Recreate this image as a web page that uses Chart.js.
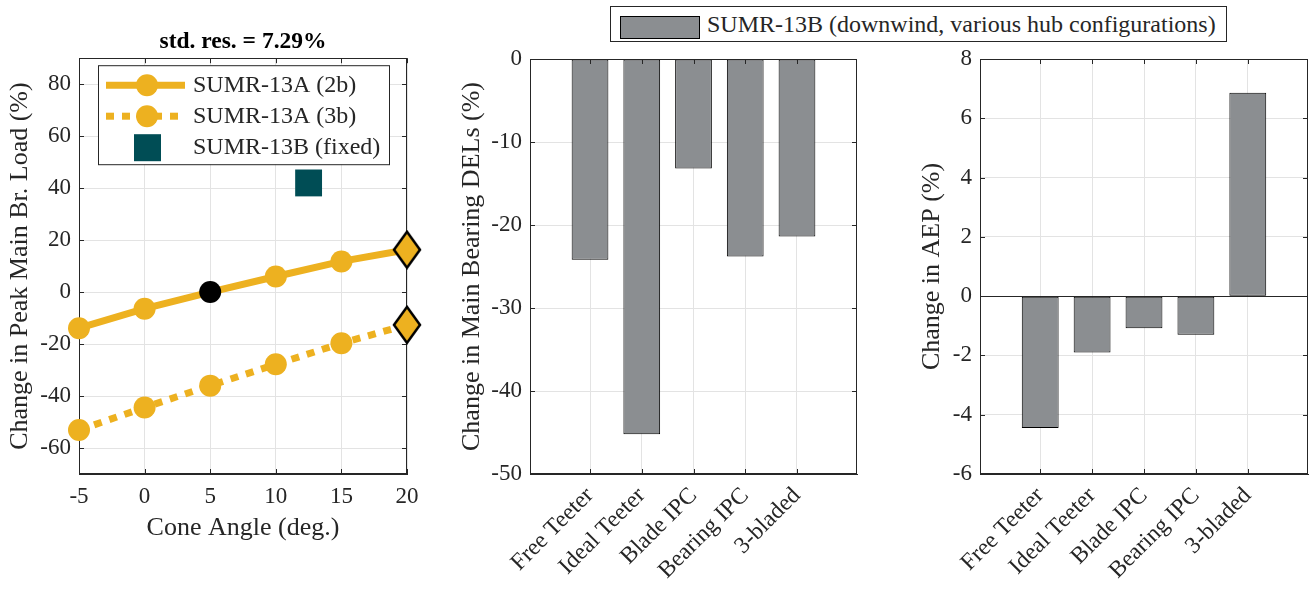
<!DOCTYPE html>
<html>
<head>
<meta charset="utf-8">
<script src="https://cdn.jsdelivr.net/npm/chart.js@4.4.1/dist/chart.umd.min.js"></script>
<style>
html, body { margin: 0; padding: 0; background: #fff; }
#wrap { position: relative; width: 1313px; height: 591px; overflow: hidden; }
#wrap canvas { position: absolute; top: 0; }
#barLegend {
    position: absolute; left: 610px; top: 6px; width: 617px; height: 36px;
    box-sizing: border-box; border: 1px solid #262626; background: #fff;
    font-family: "Liberation Serif", "Times New Roman", serif; font-size: 24px; color: #262626;
    white-space: nowrap;
}
#barLegend .swatch {
    position: absolute; left: 9px; top: 9px; width: 80px; height: 23px;
    box-sizing: border-box; border: 1px solid #000; background: #8B8E91;
}
#barLegend .label { position: absolute; left: 96px; top: 2px; line-height: 30px; }
</style>
</head>
<body>
<div id="wrap">
    <canvas id="coneChart" width="440" height="591" style="left:0px"></canvas>
    <canvas id="delChart" width="440" height="591" style="left:440px"></canvas>
    <canvas id="aepChart" width="423" height="591" style="left:890px"></canvas>
    <div id="barLegend"><div class="swatch"></div><div class="label">SUMR-13B (downwind, various hub configurations)</div></div>
</div>
<script>
/* ================= DATA ================= */
const coneAngles = [-5, 0, 5, 10, 15, 20];
const load2b = [-13.9, -6.4, 0, 6.0, 11.8, 16.3];
const load3b = [-53.1, -44.4, -36.0, -27.8, -19.7, -12.6];
const fixedCone = [12.5];
const fixedLoad = [42];

const hubConfigs = ["Free Teeter", "Ideal Teeter", "Blade IPC", "Bearing IPC", "3-bladed"];
const delChange = [-24.2, -45.2, -13.2, -23.8, -21.4];
const aepChange = [-4.45, -1.9, -1.08, -1.3, 6.86];

const coneTicks = [-5, 0, 5, 10, 15, 20];
const loadTicks = [-60, -40, -20, 0, 20, 40, 60, 80];
const delTicks = [-50, -40, -30, -20, -10, 0];
const aepTicks = [-6, -4, -2, 0, 2, 4, 6, 8];

/* ================= STYLE ================= */
const yellow = "#EDB120";
const teal = "#004D55";
const barGray = "#8B8E91";
const ink = "#262626";
const gridCol = "#E3E3E3";
const serif = '"Liberation Serif", "Times New Roman", serif';

function setTicks(list) {
    return function (scale) { scale.ticks = list.map(v => ({ value: v })); };
}

// MATLAB-ish diamond marker (taller than wide)
function diamond() {
    const c = document.createElement("canvas");
    c.width = 30; c.height = 40;
    const g = c.getContext("2d");
    g.beginPath();
    g.moveTo(15, 2); g.lineTo(28, 20); g.lineTo(15, 38); g.lineTo(2, 20);
    g.closePath();
    g.fillStyle = yellow; g.fill();
    g.lineWidth = 2.5; g.strokeStyle = "#000"; g.stroke();
    return c;
}
const diamondMark = diamond();

/* ================= PLUGINS ================= */
function drawBox(chart, opts) {
    const { ctx, chartArea: a, scales: { x, y } } = chart;
    ctx.save();
    ctx.strokeStyle = ink;
    ctx.lineWidth = 1;
    ctx.beginPath();
    x.ticks.forEach(t => {
        const px = Math.round(x.getPixelForValue(t.value)) + 0.5;
        ctx.moveTo(px, a.bottom); ctx.lineTo(px, a.bottom - 5);
        ctx.moveTo(px, a.top); ctx.lineTo(px, a.top + 5);
    });
    y.ticks.forEach(t => {
        const py = Math.round(y.getPixelForValue(t.value)) + 0.5;
        ctx.moveTo(a.left, py); ctx.lineTo(a.left + 5, py);
        ctx.moveTo(a.right, py); ctx.lineTo(a.right - 5, py);
    });
    if (opts.zeroLine) {
        const py = Math.round(y.getPixelForValue(0)) + 0.5;
        ctx.moveTo(a.left, py); ctx.lineTo(a.right, py);
    }
    ctx.stroke();
    ctx.strokeRect(Math.round(a.left) + 0.5, Math.round(a.top) + 0.5,
        Math.round(a.right - a.left) - 1, Math.round(a.bottom - a.top) - 1);
    ctx.restore();
}

const matlabBox = {
    id: "matlabBox",
    beforeDatasetsDraw(chart, args, opts) { if (!opts.onTop) drawBox(chart, opts); },
    afterDatasetsDraw(chart, args, opts) { if (opts.onTop) drawBox(chart, opts); }
};

// legend box inside the cone-angle plot: line + marker samples
const lineLegend = {
    id: "lineLegend",
    afterDraw(chart) {
        const { ctx, chartArea: a } = chart;
        const bx = a.left + 19, by = a.top + 7, bw = 291, bh = 99;
        ctx.save();
        ctx.fillStyle = "#fff";
        ctx.fillRect(bx, by, bw, bh);
        ctx.strokeStyle = ink;
        ctx.lineWidth = 1;
        ctx.strokeRect(bx + 0.5, by + 0.5, bw, bh);

        const rows = [by + 20, by + 51, by + 82];
        const x0 = bx + 8, x1 = bx + 87, xm = bx + 49, tx = bx + 95;
        chart.data.datasets.forEach((ds, i) => {
            const ry = rows[i];
            if (ds.showLine !== false) {
                ctx.beginPath();
                ctx.strokeStyle = ds.borderColor;
                ctx.lineWidth = ds.borderWidth;
                ctx.setLineDash(ds.borderDash || []);
                ctx.moveTo(x0, ry); ctx.lineTo(x1, ry);
                ctx.stroke();
                ctx.setLineDash([]);
                ctx.beginPath();
                ctx.fillStyle = yellow;
                ctx.arc(xm, ry, 11, 0, Math.PI * 2);
                ctx.fill();
            } else {
                ctx.fillStyle = ds.backgroundColor;
                ctx.fillRect(xm - 13, ry - 13, 27, 27);
            }
            ctx.fillStyle = ink;
            ctx.font = "24px " + serif;
            ctx.textBaseline = "middle";
            ctx.textAlign = "left";
            ctx.fillText(ds.label, tx, ry + 1);
        });
        ctx.restore();
    }
};

/* ================= CONE ANGLE CHART ================= */
const last = coneAngles.length - 1;
new Chart(document.getElementById("coneChart"), {
    type: "line",
    data: {
        datasets: [
            {
                label: "SUMR-13A (2b)",
                data: coneAngles.map((a, i) => ({ x: a, y: load2b[i] })),
                borderColor: yellow,
                borderWidth: 7,
                pointStyle: coneAngles.map((a, i) => i === last ? diamondMark : "circle"),
                pointRadius: 11,
                pointBackgroundColor: coneAngles.map((a, i) => a === 5 ? "#000" : yellow),
                pointBorderColor: coneAngles.map((a, i) => a === 5 ? "#000" : yellow),
                pointBorderWidth: 0,
                clip: false
            },
            {
                label: "SUMR-13A (3b)",
                data: coneAngles.map((a, i) => ({ x: a, y: load3b[i] })),
                borderColor: yellow,
                borderWidth: 7,
                borderDash: [8, 8],
                borderCapStyle: "butt",
                pointStyle: coneAngles.map((a, i) => i === last ? diamondMark : "circle"),
                pointRadius: 11,
                pointBackgroundColor: yellow,
                pointBorderColor: yellow,
                pointBorderWidth: 0,
                clip: false
            },
            {
                label: "SUMR-13B (fixed)",
                data: fixedCone.map((a, i) => ({ x: a, y: fixedLoad[i] })),
                showLine: false,
                backgroundColor: teal,
                borderColor: teal,
                pointStyle: "rect",
                pointRadius: 19,
                pointBackgroundColor: teal,
                pointBorderWidth: 0,
                clip: false
            }
        ]
    },
    options: {
        responsive: false,
        animation: false,
        devicePixelRatio: 1,
        layout: { padding: { top: 0, right: 33, bottom: 0, left: 0 } },
        plugins: {
            legend: { display: false },
            tooltip: { enabled: false },
            title: {
                display: true,
                fullSize: false,
                text: "std. res. = 7.29%",
                color: "#000",
                font: { family: serif, size: 23.5, weight: "bold" },
                padding: { top: 28, bottom: 2 }
            },
            matlabBox: { onTop: false }
        },
        scales: {
            x: {
                type: "linear",
                min: -5, max: 20,
                afterBuildTicks: setTicks(coneTicks),
                afterFit: s => { s.height = 117; },
                grid: { color: gridCol, drawTicks: false },
                border: { color: ink },
                ticks: { color: ink, font: { family: serif, size: 23 }, padding: 9 },
                title: { display: true, text: "Cone Angle (deg.)", color: ink,
                         font: { family: serif, size: 26 }, padding: { top: 0, bottom: 47 } }
            },
            y: {
                min: -70, max: 90,
                afterBuildTicks: setTicks(loadTicks),
                afterFit: s => { s.width = 79; },
                grid: { color: gridCol, drawTicks: false },
                border: { color: ink },
                ticks: { color: ink, font: { family: serif, size: 23 }, padding: 8 },
                title: { display: true, text: "Change in Peak Main Br. Load (%)", color: ink,
                         font: { family: serif, size: 26 }, padding: { top: 5, bottom: 0 } }
            }
        }
    },
    plugins: [matlabBox, lineLegend]
});

/* ================= BAR CHARTS ================= */
function barChart(id, values, yMin, yMax, yTicks, yTitle, rightPad, titleOffset, zeroLine) {
    return new Chart(document.getElementById(id), {
        type: "bar",
        data: {
            datasets: [{
                label: "SUMR-13B (downwind, various hub configurations)",
                data: hubConfigs.map((c, i) => ({ x: i, y: values[i] })),
                backgroundColor: barGray,
                borderColor: "#000",
                borderWidth: 1,
                borderSkipped: false,
                barPercentage: 0.71,
                categoryPercentage: 1.0
            }]
        },
        options: {
            responsive: false,
            animation: false,
            devicePixelRatio: 1,
            layout: { padding: { top: 59, right: rightPad, bottom: 0, left: 0 } },
            plugins: {
                legend: { display: false },
                tooltip: { enabled: false },
                matlabBox: { onTop: true, zeroLine: zeroLine }
            },
            scales: {
                x: {
                    type: "linear",
                    min: -1.16, max: 5.16,
                    offset: false,
                    afterBuildTicks: setTicks(hubConfigs.map((c, i) => i)),
                    afterFit: s => { s.height = 117; },
                    grid: { color: gridCol, drawTicks: false, offset: false },
                    border: { color: ink },
                    ticks: {
                        color: ink, font: { family: serif, size: 23.5 }, padding: 8,
                        autoSkip: false, minRotation: 45, maxRotation: 45,
                        callback: v => hubConfigs[v]
                    }
                },
                y: {
                    min: yMin, max: yMax,
                    afterBuildTicks: setTicks(yTicks),
                    afterFit: s => { s.width = 90; },
                    grid: { color: gridCol, drawTicks: false },
                    border: { color: ink },
                    ticks: { color: ink, font: { family: serif, size: 23 }, padding: 8 },
                    title: { display: true, text: yTitle, color: ink,
                             font: { family: serif, size: 26 }, padding: { top: titleOffset, bottom: 0 } }
                }
            }
        },
        plugins: [matlabBox]
    });
}

barChart("delChart", delChange, -50, 0, delTicks, "Change in Main Bearing DELs (%)", 23, 17, false);
barChart("aepChart", aepChange, -6, 8, aepTicks, "Change in AEP (%)", 5, 27, true);
</script>
</body>
</html>
